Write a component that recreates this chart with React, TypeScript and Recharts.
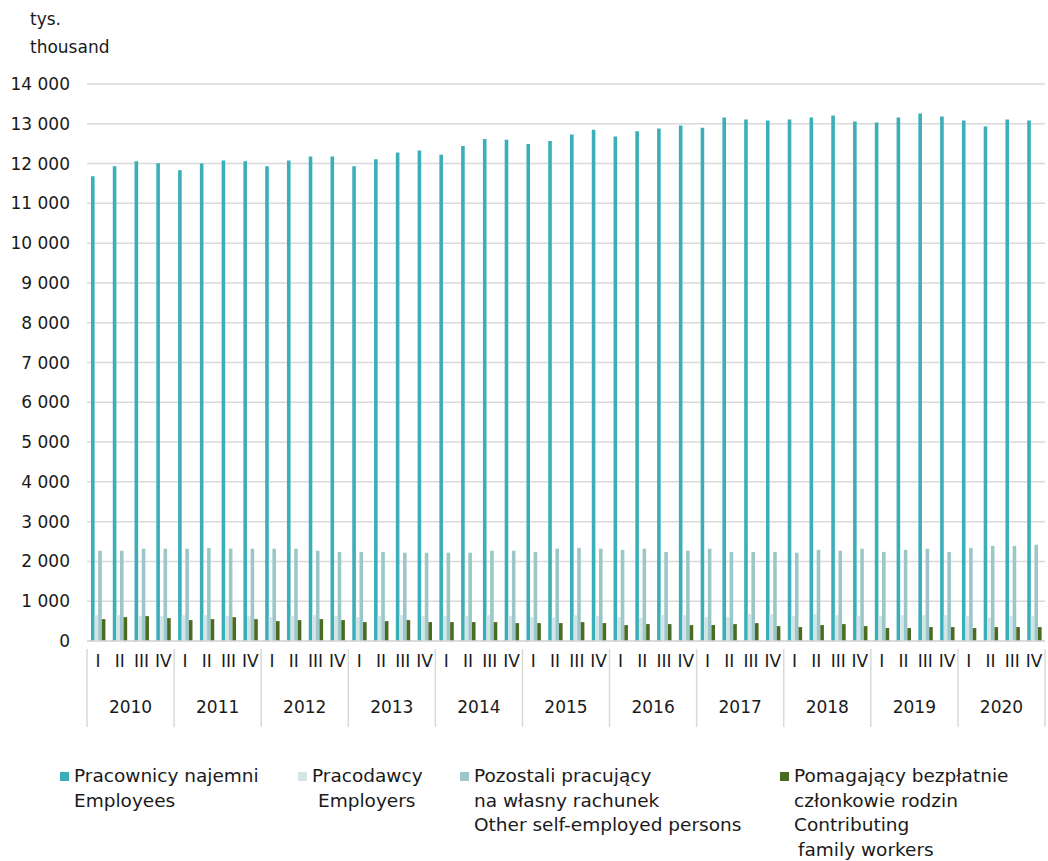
import React from 'react';
import { BarChart, Bar, CartesianGrid, XAxis, YAxis } from 'recharts';

const years = ['2010', '2011', '2012', '2013', '2014', '2015', '2016', '2017', '2018', '2019', '2020'];
const quarters = ['I', 'II', 'III', 'IV'];

const employees = [
  11680, 11930, 12060, 12010,
  11830, 12000, 12080, 12060,
  11930, 12080, 12180, 12180,
  11930, 12110, 12280, 12330,
  12220, 12440, 12620, 12600,
  12490, 12570, 12730, 12850,
  12680, 12810, 12880, 12960,
  12900, 13160, 13110, 13080,
  13110, 13160, 13210, 13060,
  13030, 13160, 13260, 13180,
  13080, 12930, 13110, 13080
];

const employers = [
  650, 650, 625, 625,
  650, 650, 625, 625,
  600, 625, 650, 625,
  600, 625, 650, 625,
  625, 625, 650, 625,
  600, 585, 650, 625,
  600, 585, 650, 650,
  600, 600, 675, 675,
  625, 675, 650, 625,
  625, 650, 650, 650,
  625, 585, 625, 625
];

const otherSelf = [
  2270, 2270, 2320, 2320,
  2320, 2340, 2320, 2320,
  2320, 2320, 2270, 2240,
  2240, 2240, 2220, 2220,
  2220, 2220, 2270, 2270,
  2240, 2320, 2340, 2320,
  2290, 2320, 2240, 2270,
  2320, 2240, 2240, 2240,
  2220, 2290, 2270, 2320,
  2240, 2290, 2320, 2240,
  2340, 2390, 2390, 2420
];

const family = [
  550, 600, 625, 575,
  525, 550, 600, 550,
  500, 525, 550, 525,
  475, 500, 525, 475,
  475, 475, 475, 450,
  450, 450, 475, 450,
  400, 425, 425, 400,
  400, 425, 450, 375,
  350, 400, 425, 375,
  325, 325, 350, 350,
  325, 350, 350, 350
];

const yTicks = [0, 1000, 2000, 3000, 4000, 5000, 6000, 7000, 8000, 9000, 10000, 11000, 12000, 13000, 14000];

const data = employees.map((v, i) => ({
  label: quarters[i % 4],
  year: years[Math.floor(i / 4)],
  employees: v,
  employers: employers[i],
  otherSelf: otherSelf[i],
  family: family[i]
}));

const FONT = '"DejaVu Sans", "Open Sans", sans-serif';
const TEXT = '#1a1a1a';
const LINE = '#d9d9d9';
const BAND = (1048 - 87 - 3) / data.length;

const fmt = (v: number) => v.toLocaleString('en-US').replace(/,/g, ' ');

function YearTick(props: any) {
  const { x, y, index } = props;
  if (index % 4 !== 0) return null;
  const left = x - BAND / 2;
  const isLast = index === data.length - 4;
  return (
    <g>
      <line x1={left} y1={y - 40} x2={left} y2={y + 38} stroke={LINE} strokeWidth={1.5} />
      {isLast && (
        <line x1={left + BAND * 4} y1={y - 40} x2={left + BAND * 4} y2={y + 38} stroke={LINE} strokeWidth={1.5} />
      )}
      <text x={left + BAND * 2} y={y + 24} textAnchor="middle" fontSize={17} fill={TEXT} fontFamily={FONT}>
        {data[index].year}
      </text>
    </g>
  );
}

const legendItems = [
  { color: '#3aafb9', x: 60, lines: ['Pracownicy najemni', 'Employees'], indent: [0, 0] },
  { color: '#d3e5e6', x: 298, lines: ['Pracodawcy', 'Employers'], indent: [0, 6] },
  { color: '#9dc6c8', x: 460, lines: ['Pozostali pracujący', 'na własny rachunek', 'Other self-employed persons'], indent: [0, 0, 0] },
  { color: '#4b6b22', x: 780, lines: ['Pomagający bezpłatnie', 'członkowie rodzin', 'Contributing', 'family workers'], indent: [0, 0, 0, 4] }
];

export default function App() {
  return (
    <div style={{ position: 'absolute', left: 0, top: 0, width: 1048, height: 861, background: '#fff', fontFamily: FONT, color: TEXT }}>
      <div style={{ position: 'absolute', left: 30, top: 5, fontSize: 17, lineHeight: '28px' }}>
        tys.
        <br />
        thousand
      </div>
      <div style={{ position: 'absolute', left: 0, top: 0 }}>
        <BarChart
          width={1048}
          height={740}
          data={data}
          margin={{ top: 84, right: 3, left: 0, bottom: 19 }}
          barGap={0}
          barSize={3.6}
        >
          <CartesianGrid vertical={false} stroke={LINE} strokeWidth={1.5} />
          <XAxis
            dataKey="label"
            xAxisId={0}
            height={40}
            interval={0}
            axisLine={{ stroke: LINE, strokeWidth: 1.5 }}
            tickLine={false}
            tick={{ fill: TEXT, fontSize: 17, fontFamily: FONT }}
            tickMargin={8}
          />
          <XAxis
            dataKey="year"
            xAxisId="year"
            height={40}
            interval={0}
            axisLine={false}
            tickLine={false}
            tick={<YearTick />}
          />
          <YAxis
            width={87}
            domain={[0, 14000]}
            ticks={yTicks}
            interval={0}
            axisLine={false}
            tickLine={false}
            tickMargin={11}
            tickFormatter={fmt}
            tick={{ fill: TEXT, fontSize: 17, fontFamily: FONT }}
          />
          <Bar dataKey="employees" fill="#3aafb9" isAnimationActive={false} />
          <Bar dataKey="employers" fill="#d3e5e6" isAnimationActive={false} />
          <Bar dataKey="otherSelf" fill="#9dc6c8" isAnimationActive={false} />
          <Bar dataKey="family" fill="#4b6b22" isAnimationActive={false} />
        </BarChart>
      </div>
      {legendItems.map((item) => (
        <div key={item.x} style={{ position: 'absolute', left: item.x, top: 764, fontSize: 18.5, lineHeight: '24.5px' }}>
          <span style={{ position: 'absolute', left: 0, top: 8, width: 9, height: 9, background: item.color }} />
          {item.lines.map((line, j) => (
            <div key={j} style={{ paddingLeft: 14 + item.indent[j], whiteSpace: 'nowrap' }}>
              {line}
            </div>
          ))}
        </div>
      ))}
    </div>
  );
}
